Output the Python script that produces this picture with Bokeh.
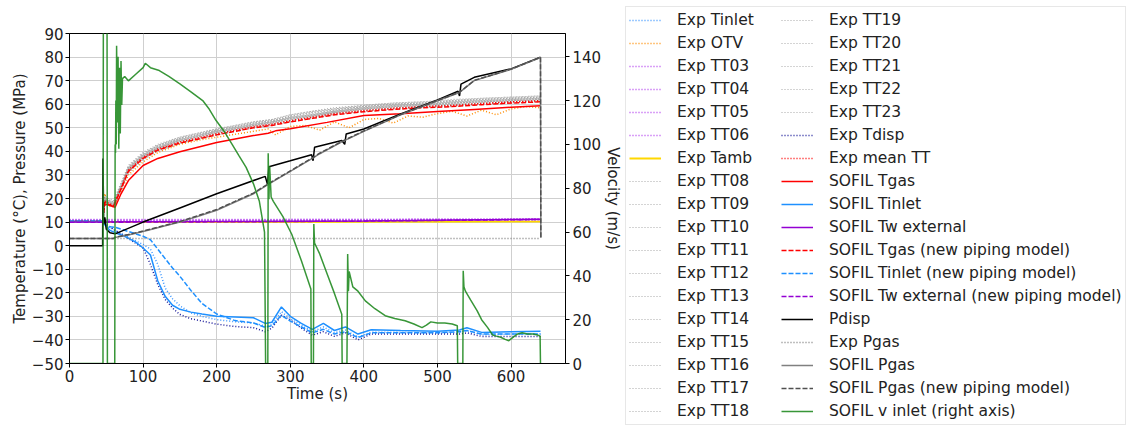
from bokeh.plotting import figure
from bokeh.layouts import row
from bokeh.models import Range1d, LinearAxis, Legend, LegendItem, FixedTicker
from bokeh.embed import file_html
from bokeh.resources import INLINE

# ---------------- data ----------------
# Experimental temperature sensors (shared time base)
t_exp = [0, 45, 48, 53, 60, 70, 80, 100, 120, 150, 200, 250, 275, 300, 330, 360, 400, 440, 480, 520, 560, 600, 640]
exp_tt08 = [10.1, 10.1, 20, 18.5, 17.5, 25, 32.5, 38, 41.5, 44.5, 48, 51, 52.5, 54, 55, 56.5, 58, 59, 59.5, 60, 61, 61.5, 62]
exp_tt09 = [10.0, 10.0, 19.5, 19, 18, 25.5, 33, 38.5, 42, 45, 48.5, 51.5, 52, 54.5, 55.5, 57, 58.5, 59.5, 60, 61, 61.5, 62, 62.5]
exp_tt10 = [10.2, 10.2, 18, 17.5, 16.5, 23.5, 31, 36.5, 40.5, 43.5, 47, 50, 51, 52.5, 54, 55.5, 57, 58, 58.5, 59, 60, 60.5, 61]
exp_tt11 = [10.1, 10.1, 20.5, 19.5, 18.5, 26, 33.5, 39, 42.5, 45.5, 49, 52, 53, 55, 56.5, 57.5, 59, 60, 60.5, 61.5, 62, 62.5, 63]
exp_tt12 = [10.3, 10.3, 19, 18, 17, 24, 31.5, 37, 40.5, 44, 47.5, 50.5, 51.5, 53.5, 55, 56.5, 57.5, 58.5, 59, 60, 60.5, 61, 61.5]
exp_tt13 = [10.0, 10.0, 21, 20, 19, 26.5, 34, 39.5, 43, 46, 49.5, 52.5, 53.5, 55.5, 57, 58, 59.5, 60.5, 61, 62, 62.5, 63, 63.5]
exp_tt14 = [10.2, 10.2, 18.5, 18, 17, 24.5, 32, 37.5, 41, 44.5, 48, 51, 52, 54, 55.5, 57, 58, 59, 59.5, 60.5, 61, 61.5, 62]
exp_tt15 = [10.1, 10.1, 19.5, 18.5, 17.5, 25, 32, 37.5, 41.5, 44.5, 48.5, 51, 52.5, 54, 55, 56.5, 58, 59, 60, 60.5, 61, 62, 62.5]
exp_tt16 = [10.0, 10.0, 20, 19, 18, 25.5, 33, 38.5, 42, 45.5, 49, 52, 53, 54.5, 56, 57.5, 59, 60, 60.5, 61, 62, 62.5, 63]
exp_tt17 = [10.2, 10.2, 18.5, 17.5, 16.5, 24, 31.5, 37, 40.5, 43.5, 47.5, 50.5, 51.5, 53, 54.5, 56, 57.5, 58.5, 59, 59.5, 60.5, 61, 61.5]
exp_tt18 = [10.1, 10.1, 19, 18.5, 17.5, 25, 32.5, 38, 41.5, 45, 48.5, 51.5, 52.5, 54.5, 55.5, 57, 58.5, 59.5, 60, 61, 61.5, 62, 62.5]
exp_tt19 = [10.3, 10.3, 20, 19, 18, 25.5, 33, 38.5, 42.5, 46, 49.5, 52.5, 53.5, 55.5, 57, 58.5, 59.5, 60.5, 61, 61.5, 62.5, 63, 63.5]
exp_tt20 = [10.0, 10.0, 19, 18, 17, 24.5, 32, 37.5, 41, 44.5, 48, 51, 52, 53.5, 55, 56.5, 58, 59, 59.5, 60.5, 61, 61.5, 62]
exp_tt21 = [10.2, 10.2, 18, 17, 16.5, 23.5, 31, 36.5, 40, 43.5, 47, 50, 51.5, 53, 54.5, 56, 57, 58, 59, 59.5, 60, 61, 61.5]
exp_tt22 = [10.1, 10.1, 20.5, 19.5, 18.5, 26, 33.5, 39, 42.5, 45.5, 49, 52, 53, 55, 56.5, 58, 59, 60, 60.5, 61.5, 62, 62.5, 63]
exp_tt23 = [10.0, 10.0, 19.5, 18.5, 17.5, 25, 32.5, 38, 41.5, 45, 48.5, 51.5, 52.5, 54, 55.5, 57, 58.5, 59.5, 60, 60.5, 61.5, 62, 62.5]
exp_mean_tt = [10.3, 10.3, 19, 18, 17, 24.5, 32, 37.5, 41, 44, 47.5, 50.5, 51.5, 53, 54.5, 56, 57.3, 58.3, 59, 59.5, 60.3, 61, 61.5]
sofil_tgas_new = [10.3, 10.3, 18.5, 17.5, 16.8, 24, 31.5, 37, 40.5, 43.5, 47, 50, 51, 52.5, 54, 55.5, 56.8, 57.8, 58.5, 59, 59.8, 60.5, 61]

# Exp OTV
t_otv = [0, 45, 48, 50, 53, 60, 70, 80, 100, 120, 150, 180, 200, 230, 250, 270, 280, 300, 320, 340, 360, 380, 400, 420, 440, 460, 480, 500, 520, 540, 560, 580, 600, 620, 640]
exp_otv = [10, 10, 22, 19, 17, 16.5, 23, 30, 35.5, 39.5, 43, 45, 46, 47.5, 48.5, 49.5, 47, 50.5, 51, 49, 52.5, 50, 53.5, 54, 52, 55, 54.5, 56, 57, 55, 57.5, 55.5, 58, 59, 58.5]

# SOFIL Tgas
t_tgas = [47, 50, 55, 62, 70, 80, 100, 120, 150, 200, 250, 270, 280, 300, 350, 400, 450, 500, 550, 600, 640]
sofil_tgas = [17, 17.5, 17, 16.3, 22, 27.6, 34, 37, 39.8, 43.8, 46.7, 47.7, 48.7, 49.6, 52.3, 55.2, 56, 56.9, 57.8, 58.7, 59.3]

# near-ambient temperatures
t_flat = [0, 200, 400, 640]
exp_tt03 = [10.9, 10.9, 11.0, 11.2]
exp_tt04 = [10.6, 10.6, 10.8, 11.0]
exp_tt05 = [11.1, 11.1, 11.2, 11.4]
exp_tt06 = [10.4, 10.4, 10.6, 10.9]
exp_tamb = [10.0, 10.0, 10.1, 10.2]
sofil_tw_ext = [10.0, 10.2, 10.5, 11.2]
sofil_tw_ext_new = [9.9, 10.1, 10.4, 11.1]

# cold inlet temperatures
t_cold = [0, 45, 50, 55, 62, 75, 90, 100, 110, 120, 130, 140, 150, 165, 180, 200, 225, 250, 266, 275, 288, 300, 315, 330, 345, 360, 375, 392, 410, 450, 500, 530, 540, 560, 600, 640]
sofil_tinlet = [10.2, 10.2, 8, 6.5, 5.5, 4, 1.5, -1, -4, -15, -21.5, -25.3, -27, -28.2, -29, -30, -30.3, -30.6, -33, -32.5, -26, -30, -33, -35.5, -33, -36, -34.5, -37.5, -35.7, -36, -36.3, -35.8, -34.8, -36.8, -36.5, -36.3]
exp_tdisp = [10.5, 10.5, 9, 8, 6.5, 4, 1, -1, -8, -16.5, -22.8, -26.5, -29.2, -31, -32, -33.3, -34.3, -34.8, -36.5, -35, -29.5, -31.5, -35, -38, -36.5, -38.5, -37, -40, -37.5, -37.5, -37.5, -37.5, -37, -38.5, -38.5, -38.5]
exp_tinlet = [10.8, 10.8, 8.5, 7.5, 6.5, 4.5, 2, 0.5, -1.5, -8, -18, -22.5, -25.5, -28.5, -30, -31.4, -32.3, -32.8, -34.2, -33.5, -28, -31, -33.8, -36.5, -34.5, -37, -35.8, -38.8, -36.7, -36.8, -37, -36.8, -36, -37.8, -37.5, -37.5]
sofil_tinlet_new = [10.5, 10.5, 8.5, 8, 7.8, 6.5, 5, 4, 2.5, -1.5, -5.5, -9.5, -13, -19, -24.5, -29, -31.8, -32.8, -34.7, -34, -29.5, -32, -34.5, -37, -35.5, -37.5, -36.5, -39, -37, -37, -37, -36.5, -36, -37.5, -37.5, -37.5]

# pressures
t_pdisp = [0, 45, 45.5, 46.5, 48, 50, 55, 62, 100, 150, 200, 266, 269, 271, 300, 329, 331, 333, 370, 374, 376, 400, 450, 500, 528, 530, 532, 550, 600, 640]
pdisp = [0, 0, 37, 9, 12, 7, 5.5, 5, 10, 16, 22, 29.4, 26, 33.5, 36, 38.6, 36, 41.7, 44.6, 43, 47.4, 49.5, 55.9, 61.8, 65.5, 63.5, 68.5, 71.4, 75, 80]
t_pgas = [0, 60, 62, 80, 100, 125, 150, 175, 200, 225, 250, 270, 300, 330, 340, 370, 400, 450, 500, 530, 550, 600, 640, 640.5]
sofil_pgas = [3, 3, 3.5, 4.5, 6, 8, 10, 12.5, 15, 18.5, 22, 26, 31.5, 37, 39, 44, 48.5, 55.5, 61.5, 65, 70, 74.8, 79.8, 3.3]
sofil_pgas_new = [3, 3, 3.6, 4.7, 6.2, 8.2, 10.2, 12.8, 15.3, 18.8, 22.3, 26.2, 31.7, 37.2, 39.2, 44.2, 48.7, 55.6, 61.6, 65.1, 70.1, 74.9, 79.9, 3.3]
t_pgas_exp = [0, 640]
exp_pgas = [3.0, 3.0]

# inlet velocity (right axis)
t_vel = [0, 45.5, 46, 51, 51.5, 61.5, 62, 62.5, 63, 63.5, 64, 65, 66, 67, 68, 69, 70, 71, 72, 75, 80, 90, 100, 103, 110, 122, 135, 150, 165, 181, 190, 199, 210, 221, 230, 240, 250, 258, 265, 266.5, 269.5, 270, 271, 272, 274, 277, 290, 302, 315, 328, 328.5, 331.5, 332, 333, 340, 350, 360, 370, 370.5, 377, 378, 379, 380, 385, 392, 402, 415, 429, 442, 456, 468, 479, 485, 491, 500, 510, 520, 527, 527.5, 534.5, 535, 536, 538, 545, 554, 560, 568, 575, 580, 586, 592, 597, 603, 609, 615, 622, 630, 636, 639.5, 640]
v_inlet = [0, 0, 160, 160, 0, 0, 100, 96, 120, 100, 145, 110, 140, 98, 135, 105, 138, 118, 130, 131, 129, 132, 135, 137, 135, 133.7, 131, 127.6, 124, 120, 116, 111, 106, 100, 95, 89.5, 82, 74, 60, 0, 0, 96, 75, 90, 76, 74, 67, 59, 47, 34, 0, 0, 63.7, 55, 50, 41, 32, 22.5, 0, 0, 50, 33, 42, 35, 33, 28.6, 25, 21.8, 20.5, 19.5, 18, 16.4, 17.5, 19, 18.5, 18.5, 18, 17.2, 0, 0, 42.3, 35, 33, 29, 24, 20, 16.5, 13, 12.5, 12, 11, 10.4, 12, 13.5, 14, 13.5, 13.5, 13, 12.5, 0]

x_ticks = [0, 100, 200, 300, 400, 500, 600]
y_ticks = [-50, -40, -30, -20, -10, 0, 10, 20, 30, 40, 50, 60, 70, 80, 90]
v_ticks = [0, 20, 40, 60, 80, 100, 120, 140]

# ---------------- main figure ----------------
FONT = "DejaVu Sans"
p = figure(width=625, height=427, output_backend="svg", toolbar_location=None,
           x_range=Range1d(0, 674), y_range=Range1d(-50, 90),
           min_border_left=69, min_border_right=57, min_border_top=33, min_border_bottom=64)
p.frame_align = False
p.extra_y_ranges = {"vel": Range1d(0, 150.6)}
p.outline_line_color = "black"
p.outline_line_alpha = 1
p.background_fill_color = "white"


def style_axis(ax):
    ax.axis_line_color = "black"
    ax.major_tick_line_color = "black"
    ax.minor_tick_line_color = None
    ax.major_tick_out = 4
    ax.major_tick_in = 0
    ax.major_label_text_font = FONT
    ax.major_label_text_font_size = "15px"
    ax.major_label_text_color = "#222222"
    ax.axis_label_text_font = FONT
    ax.axis_label_text_font_size = "15px"
    ax.axis_label_text_font_style = "normal"
    ax.axis_label_text_color = "#222222"


style_axis(p.xaxis[0])
style_axis(p.yaxis[0])
p.xaxis[0].ticker = FixedTicker(ticks=x_ticks)
p.yaxis[0].ticker = FixedTicker(ticks=y_ticks)
p.yaxis[0].major_label_overrides = {v: ("\u2212" + str(-v) if v < 0 else str(v)) for v in y_ticks}
p.xaxis[0].axis_label = "Time (s)"
p.yaxis[0].axis_label = "Temperature (\u00b0C), Pressure (MPa)"
p.xaxis[0].major_label_standoff = 2
p.yaxis[0].major_label_standoff = 2
p.xaxis[0].axis_label_standoff = 0
p.yaxis[0].axis_label_standoff = 0

vax = LinearAxis(y_range_name="vel", ticker=FixedTicker(ticks=v_ticks), axis_label="Velocity (m/s)")
style_axis(vax)
vax.major_label_standoff = 3
vax.axis_label_standoff = 0
p.add_layout(vax, "right")

p.xgrid.ticker = FixedTicker(ticks=x_ticks)
p.ygrid.ticker = FixedTicker(ticks=y_ticks)
p.grid.grid_line_color = "#cfcfcf"
p.grid.grid_line_width = 1

DOT = "1 2"
DASH = "5 2"
GRAY_TT = "#aaaaaa"

# (label, x, y, color, dash, width, alpha, y_range_name)
series = [
    ("Exp Tinlet", t_cold, exp_tinlet, "#3c96ff", DOT, 1.5, 1.0, "default"),
    ("Exp OTV", t_otv, exp_otv, "#ff8c00", DOT, 1.5, 1.0, "default"),
    ("Exp TT03", t_flat, exp_tt03, "#b444f0", DOT, 1.5, 1.0, "default"),
    ("Exp TT04", t_flat, exp_tt04, "#b444f0", DOT, 1.5, 1.0, "default"),
    ("Exp TT05", t_flat, exp_tt05, "#b444f0", DOT, 1.5, 1.0, "default"),
    ("Exp TT06", t_flat, exp_tt06, "#b444f0", DOT, 1.5, 1.0, "default"),
    ("Exp Tamb", t_flat, exp_tamb, "#ffd700", "solid", 1.8, 1.0, "default"),
    ("Exp TT08", t_exp, exp_tt08, GRAY_TT, DOT, 1.2, 1.0, "default"),
    ("Exp TT09", t_exp, exp_tt09, GRAY_TT, DOT, 1.2, 1.0, "default"),
    ("Exp TT10", t_exp, exp_tt10, GRAY_TT, DOT, 1.2, 1.0, "default"),
    ("Exp TT11", t_exp, exp_tt11, GRAY_TT, DOT, 1.2, 1.0, "default"),
    ("Exp TT12", t_exp, exp_tt12, GRAY_TT, DOT, 1.2, 1.0, "default"),
    ("Exp TT13", t_exp, exp_tt13, GRAY_TT, DOT, 1.2, 1.0, "default"),
    ("Exp TT14", t_exp, exp_tt14, GRAY_TT, DOT, 1.2, 1.0, "default"),
    ("Exp TT15", t_exp, exp_tt15, GRAY_TT, DOT, 1.2, 1.0, "default"),
    ("Exp TT16", t_exp, exp_tt16, GRAY_TT, DOT, 1.2, 1.0, "default"),
    ("Exp TT17", t_exp, exp_tt17, GRAY_TT, DOT, 1.2, 1.0, "default"),
    ("Exp TT18", t_exp, exp_tt18, GRAY_TT, DOT, 1.2, 1.0, "default"),
    ("Exp TT19", t_exp, exp_tt19, GRAY_TT, DOT, 1.2, 1.0, "default"),
    ("Exp TT20", t_exp, exp_tt20, GRAY_TT, DOT, 1.2, 1.0, "default"),
    ("Exp TT21", t_exp, exp_tt21, GRAY_TT, DOT, 1.2, 1.0, "default"),
    ("Exp TT22", t_exp, exp_tt22, GRAY_TT, DOT, 1.2, 1.0, "default"),
    ("Exp TT23", t_exp, exp_tt23, GRAY_TT, DOT, 1.2, 1.0, "default"),
    ("Exp Tdisp", t_cold, exp_tdisp, "#1a1a9a", DOT, 1.5, 1.0, "default"),
    ("Exp mean TT", t_exp, exp_mean_tt, "#ff0000", DOT, 1.5, 1.0, "default"),
    ("SOFIL Tgas", t_tgas, sofil_tgas, "#ff0000", "solid", 1.5, 1.0, "default"),
    ("SOFIL Tinlet", t_cold, sofil_tinlet, "#1e90ff", "solid", 1.5, 1.0, "default"),
    ("SOFIL Tw external", t_flat, sofil_tw_ext, "#9400d3", "solid", 1.5, 1.0, "default"),
    ("SOFIL Tgas (new piping model)", t_exp, sofil_tgas_new, "#ff0000", DASH, 1.5, 1.0, "default"),
    ("SOFIL Tinlet (new piping model)", t_cold, sofil_tinlet_new, "#1e90ff", DASH, 1.5, 1.0, "default"),
    ("SOFIL Tw external (new piping model)", t_flat, sofil_tw_ext_new, "#9400d3", DASH, 1.5, 1.0, "default"),
    ("Pdisp", t_pdisp, pdisp, "#000000", "solid", 1.5, 1.0, "default"),
    ("Exp Pgas", t_pgas_exp, exp_pgas, "#808080", DOT, 1.5, 1.0, "default"),
    ("SOFIL Pgas", t_pgas, sofil_pgas, "#808080", "solid", 1.5, 1.0, "default"),
    ("SOFIL Pgas (new piping model)", t_pgas, sofil_pgas_new, "#505050", DASH, 1.5, 1.0, "default"),
    ("SOFIL v inlet (right axis)", t_vel, v_inlet, "#228b22", "solid", 1.5, 0.9, "vel"),
]

for lbl, xs, ys, col, dash, w, a, rng in series:
    p.line(xs, ys, line_color=col, line_dash=dash, line_width=w, line_alpha=a, y_range_name=rng)

# ---------------- legend panel (separate, unaligned frame) ----------------
q = figure(width=507, height=427, output_backend="svg", toolbar_location=None,
           x_range=Range1d(0, 1), y_range=Range1d(0, 1),
           x_axis_location=None, y_axis_location=None,
           min_border_left=0, min_border_right=0, min_border_top=0, min_border_bottom=0)
q.frame_align = False
q.outline_line_color = None
q.grid.visible = False

items = []
for lbl, xs, ys, col, dash, w, a, rng in series:
    # swatch-only renderer: its points sit outside the visible range of this panel
    r = q.line([5, 6], [5, 6], line_color=col, line_dash=dash, line_width=w, line_alpha=a)
    items.append(LegendItem(label=lbl, renderers=[r]))

NROWS = 18
PAD = 3
ROW_H = 20
SPACE = 3
leg_h = 2 * PAD + NROWS * ROW_H + (NROWS - 1) * SPACE
LEG_TOP = 8
legend = Legend(items=items, location=(0, 427 - LEG_TOP - leg_h), nrows=NROWS,
                label_text_font=FONT, label_text_font_size="15.5px", label_text_color="#222222",
                glyph_width=32, glyph_height=ROW_H, label_height=ROW_H, label_width=101,
                label_standoff=16, spacing=SPACE, padding=PAD, margin=0,
                border_line_color="#d0d0d0", border_line_width=1,
                background_fill_color="white", background_fill_alpha=1)
q.add_layout(legend)

layout = row(p, q)
open("out.html", "w").write(file_html(layout, INLINE))
